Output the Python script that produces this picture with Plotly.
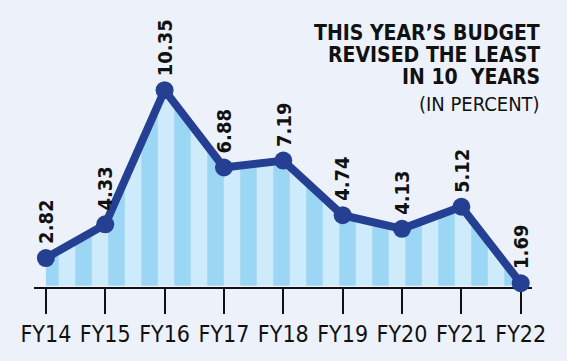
import plotly.graph_objects as go

categories = ["FY14", "FY15", "FY16", "FY17", "FY18", "FY19", "FY20", "FY21", "FY22"]
values = [2.82, 4.33, 10.35, 6.88, 7.19, 4.74, 4.13, 5.12, 1.69]
labels = ["2.82", "4.33", "10.35", "6.88", "7.19", "4.74", "4.13", "5.12", "1.69"]
title_lines = ["THIS YEAR’S BUDGET", "REVISED THE LEAST", "IN 10  YEARS"]
subtitle = "(IN PERCENT)"

Y_MIN, Y_MAX = 1.52, 12.6
BG = "#edf2fa"
LINE = "#253f92"
FONT = "DejaVu Sans Condensed, Liberation Sans Narrow, Arial Narrow, DejaVu Sans, sans-serif"

fig = go.Figure()
fig.add_trace(go.Scatter(
    x=categories, y=[Y_MIN + 0.06] * len(categories), mode="lines",
    line=dict(width=0), hoverinfo="skip", showlegend=False))
fig.add_trace(go.Scatter(
    x=categories, y=values, mode="lines+markers",
    fill="tonexty",
    fillpattern=dict(shape="|", bgcolor="#cdebfa", fgcolor="#9bd6f5",
                     size=33, solidity=0.5, fillmode="replace"),
    line=dict(color=LINE, width=8),
    marker=dict(color=LINE, size=18),
    cliponaxis=False, showlegend=False))

for c, v, t in zip(categories, values, labels):
    fig.add_annotation(x=c, y=v, text=t, textangle=-90, showarrow=False,
                       xanchor="center", yanchor="bottom", yshift=12,
                       font=dict(family=FONT, size=20, color="#111111", weight="bold"))

for i, line in enumerate(title_lines):
    fig.add_annotation(xref="paper", yref="paper", x=1.0 + 10 / 498, y=1,
                       xanchor="right", yanchor="top", yshift=21 - i * 22,
                       text=line, showarrow=False,
                       font=dict(family=FONT, size=21, color="#111111", weight="bold"))
fig.add_annotation(xref="paper", yref="paper", x=1.0 + 10 / 498, y=1,
                   xanchor="right", yanchor="top", yshift=21 - 3 * 22 - 5,
                   text=subtitle, showarrow=False,
                   font=dict(family=FONT, size=20, color="#111111"))

fig.update_xaxes(type="category", range=[-0.2, 8.19], showline=True, linecolor="#111111",
                 linewidth=2, ticks="outside", ticklen=25, tickwidth=2, tickcolor="#111111",
                 showgrid=False, zeroline=False, layer="below traces",
                 tickfont=dict(family=FONT, size=23, color="#111111"))
fig.update_yaxes(range=[Y_MIN, Y_MAX], visible=False, showgrid=False)
fig.update_layout(width=567, height=361, margin=dict(l=34, r=35, t=40, b=74),
                  paper_bgcolor=BG, plot_bgcolor=BG)

fig.write_html("out.html", config={"displayModeBar": False},
               post_script="document.body.style.margin='0';")
